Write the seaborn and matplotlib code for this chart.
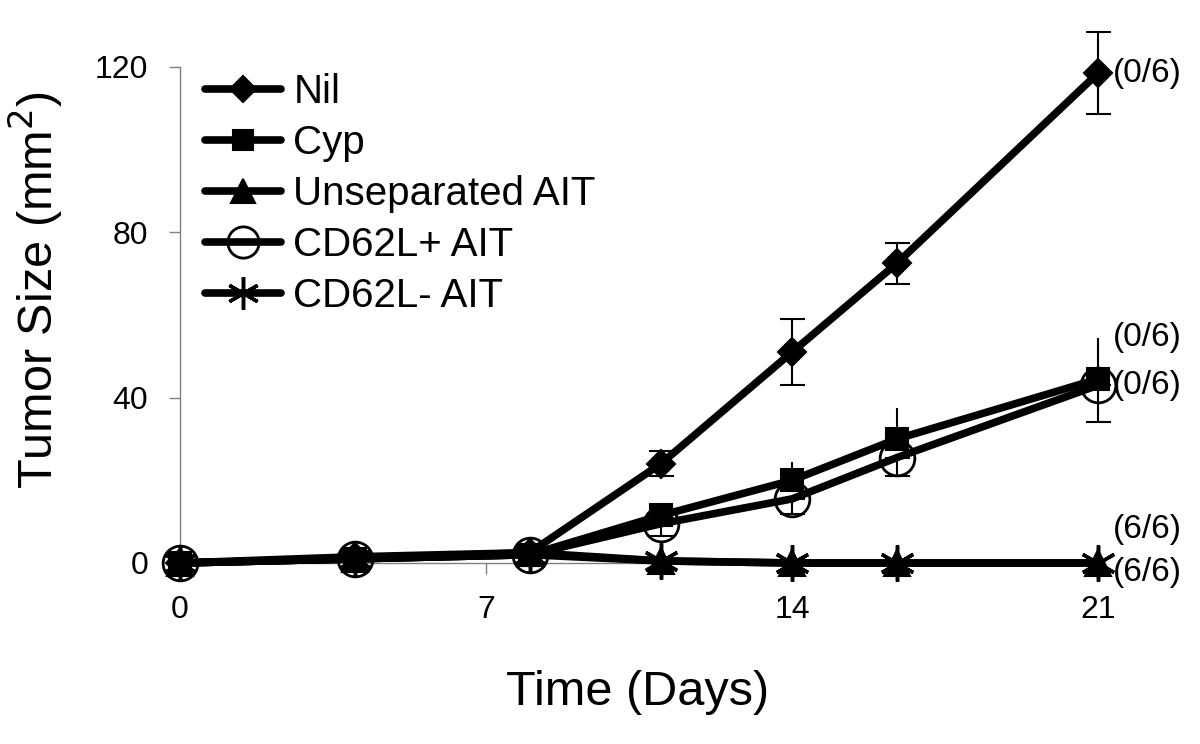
import matplotlib
matplotlib.use("Agg")
import matplotlib.pyplot as plt
import seaborn as sns

sns.set_theme(style="white")
plt.rcParams['font.family'] = ['Liberation Sans', 'DejaVu Sans']
plt.rcParams['text.color'] = 'black'
plt.rcParams['axes.labelcolor'] = 'black'

# ------------------- Data -------------------
days = [0, 4, 8, 11, 14, 16.4, 21]

nil = [0, 1.5, 2.5, 24, 51, 72.5, 118.5]
nil_err = [0, 0.5, 0.5, 3, 8, 5, 10]

cyp = [0, 1, 2, 11.5, 20, 30, 44.5]
cyp_err_up = [0, 0, 0, 0, 4.5, 7.5, 10]

unsep = [0, 1, 2.5, 0.5, 0, 0, 0]

cd62l_pos = [0, 1, 2, 9.5, 15.5, 25.5, 43]
cd62l_pos_err_down = [0, 0, 0, 3, 3.7, 4.4, 9]

cd62l_neg = [0, 1, 2, 0.5, 0, 0, 0]

end_labels = ["(0/6)", "(0/6)", "(6/6)", "(0/6)", "(6/6)"]

# ------------------- Plot -------------------
fig, ax = plt.subplots(figsize=(12, 7.44), dpi=100)
fig.subplots_adjust(left=0.15, right=0.915, bottom=0.2433, top=0.91)

series = [
    ("Nil", nil, dict(marker="D", ms=14.5, mfc="black", mew=1.5), 6, 0),
    ("Cyp", cyp, dict(marker="s", ms=16, mfc="black", mew=1.5), 5, 30),
    ("Unseparated AIT", unsep, dict(marker="^", ms=19, mfc="black", mew=1.5), 4, -7),
    ("CD62L+ AIT", cd62l_pos, dict(marker="o", ms=25, mfc="none", mew=2), 3, 0),
    ("CD62L- AIT", cd62l_neg, dict(marker=(6, 2, 0), ms=26, mew=2.5), 3.5, 24),
]

for (name, vals, mk, z, dy), lab in zip(series, end_labels):
    sns.lineplot(x=days, y=vals, ax=ax, color="black", lw=5.5, mec="black",
                 label=name, zorder=z, clip_on=False, **mk)
    ax.annotate(lab, xy=(days[-1], vals[-1]), xytext=(11, dy),
                textcoords="offset points", fontsize=24, va="center",
                ha="left", annotation_clip=False)

# error bars (Nil both ways, Cyp up only, CD62L+ down only)
zeros = [0] * len(days)
ax.errorbar(days, nil, yerr=nil_err, fmt="none", ecolor="black",
            elinewidth=1.5, capsize=9, capthick=1.5, zorder=6.5, clip_on=False)
ax.errorbar(days, cyp, yerr=[zeros, cyp_err_up], fmt="none", ecolor="black",
            elinewidth=1.5, capsize=0, zorder=5.5, clip_on=False)
ax.errorbar(days, cd62l_pos, yerr=[cd62l_pos_err_down, zeros], fmt="none",
            ecolor="black", elinewidth=1.5, capsize=9, capthick=1.5,
            zorder=3.2, clip_on=False)

ax.set_xlim(0, 21)
ax.set_ylim(0, 120)
ax.set_xticks([0, 7, 14, 21])
ax.set_yticks([0, 40, 80, 120])
ax.tick_params(axis="both", labelsize=23, length=8, width=1, color="#808080",
               labelcolor="black", pad=15, direction="out", bottom=True,
               left=True)

sns.despine(ax=ax)
for s in ["left", "bottom"]:
    ax.spines[s].set_color("#808080")
    ax.spines[s].set_linewidth(1)

ax.set_xlabel("Time (Days)", fontsize=35)
ax.set_ylabel("Tumor Size (mm$^2$)", fontsize=35)
ax.xaxis.set_label_coords(0.498, -0.215)
ax.yaxis.set_label_coords(-0.125, 0.55)

ax.legend(loc="upper left", bbox_to_anchor=(0.027, 0.987), frameon=False,
          fontsize=29, borderaxespad=0, borderpad=0, handlelength=1.9,
          handletextpad=0.3, labelspacing=0.32, markerscale=0.9)

plt.savefig("out.png", dpi=100)
plt.close()
